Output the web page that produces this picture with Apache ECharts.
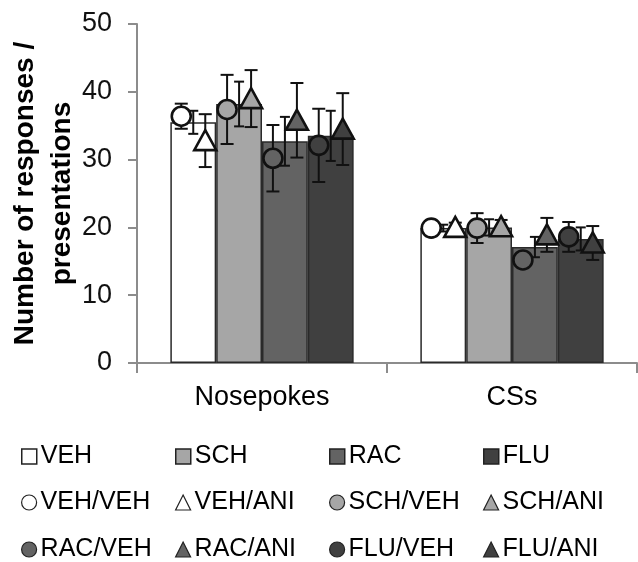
<!DOCTYPE html>
<html>
<head>
<meta charset="utf-8">
<script src="https://cdn.jsdelivr.net/npm/echarts@6/dist/echarts.min.js"></script>
<style>html,body{margin:0;padding:0;background:#fff;}#c{width:638px;height:562px;}</style>
</head>
<body>
<div id="c"></div>
<script>
// ---- data ----
const categories = ['Nosepokes', 'CSs'];
const yTicks = [0, 10, 20, 30, 40, 50];
const barNames = ['VEH', 'SCH', 'RAC', 'FLU'];
// bar means and SEM
const barVEH = [35.5, 19.9];
const barSCH = [38.2, 20.0];
const barRAC = [32.7, 17.1];
const barFLU = [33.5, 18.3];
const errVEH = [1.7, 0.5];
const errSCH = [3.3, 1.2];
const errRAC = [3.6, 1.5];
const errFLU = [3.7, 1.7];
// individual group means and SEM
const markerNames = ['VEH/VEH', 'VEH/ANI', 'SCH/VEH', 'SCH/ANI', 'RAC/VEH', 'RAC/ANI', 'FLU/VEH', 'FLU/ANI'];
const mVehVeh = [36.4, 19.9];
const mVehAni = [32.8, 20.0];
const mSchVeh = [37.4, 19.9];
const mSchAni = [39.0, 20.1];
const mRacVeh = [30.2, 15.2];
const mRacAni = [35.8, 18.9];
const mFluVeh = [32.1, 18.6];
const mFluAni = [34.5, 17.7];
const eVehVeh = [1.85, 0.6];
const eVehAni = [3.9, 0.7];
const eSchVeh = [5.1, 2.2];
const eSchAni = [4.2, 1.0];
const eRacVeh = [4.9, 1.0];
const eRacAni = [5.5, 2.5];
const eFluVeh = [5.4, 2.2];
const eFluAni = [5.3, 2.5];
// legend rows
const legendRow1 = ['VEH', 'SCH', 'RAC', 'FLU'];
const legendRow2 = ['VEH/VEH', 'VEH/ANI', 'SCH/VEH', 'SCH/ANI'];
const legendRow3 = ['RAC/VEH', 'RAC/ANI', 'FLU/VEH', 'FLU/ANI'];

// ---- styles ----
const FONT = 'Liberation Sans, Arial, sans-serif';
const barFill = ['#ffffff', '#a6a6a6', '#636363', '#404040'];
const BAR_FRAC = 0.1833;   // bar width as fraction of category band
const MARK_FRAC = 0.048;   // marker offset from bar centre as fraction of band

const barMeans = [barVEH, barSCH, barRAC, barFLU];
const barErrs = [errVEH, errSCH, errRAC, errFLU];
const mMeans = [mVehVeh, mVehAni, mSchVeh, mSchAni, mRacVeh, mRacAni, mFluVeh, mFluAni];
const mErrs = [eVehVeh, eVehAni, eSchVeh, eSchAni, eRacVeh, eRacAni, eFluVeh, eFluAni];

function toData(means, errs) {
  return categories.map((c, i) => [i, means[i], errs[i]]);
}

function errRender(barIdx, side, capHalf) {
  return function (params, api) {
    const c = api.value(0), v = api.value(1), e = api.value(2);
    const band = api.size([1, 0])[0];
    const p = api.coord([c, v]);
    const x = p[0] + band * (BAR_FRAC * (barIdx - 1.5) + side * MARK_FRAC);
    const yT = api.coord([c, v + e])[1];
    const yB = api.coord([c, v - e])[1];
    const st = { stroke: '#111', lineWidth: 2 };
    return {
      type: 'group',
      children: [
        { type: 'line', shape: { x1: x, y1: yT, x2: x, y2: yB }, style: st },
        { type: 'line', shape: { x1: x - capHalf, y1: yT, x2: x + capHalf, y2: yT }, style: st },
        { type: 'line', shape: { x1: x - capHalf, y1: yB, x2: x + capHalf, y2: yB }, style: st }
      ]
    };
  };
}

function markRender(barIdx, side, kind, fill) {
  return function (params, api) {
    const c = api.value(0), v = api.value(1);
    const band = api.size([1, 0])[0];
    const p = api.coord([c, v]);
    const x = p[0] + band * (BAR_FRAC * (barIdx - 1.5) + side * MARK_FRAC);
    const y = p[1];
    const st = { fill: fill, stroke: '#111', lineWidth: 2.6 };
    if (kind === 'circle') {
      return { type: 'circle', shape: { cx: x, cy: y, r: 9.5 }, style: st };
    }
    return {
      type: 'polygon',
      shape: { points: [[x, y - 10.5], [x + 11, y + 9.5], [x - 11, y + 9.5]] },
      style: st
    };
  };
}

const series = [];
barNames.forEach((n, j) => {
  series.push({
    name: n, type: 'bar', data: barMeans[j], barWidth: (BAR_FRAC * 100) + '%', barGap: '0%',
    itemStyle: { color: barFill[j], borderColor: '#2a2a2a', borderWidth: 1.5 }, z: 2,
    silent: true
  });
});
barNames.forEach((n, j) => {
  series.push({
    name: n + ' err', type: 'custom', renderItem: errRender(j, 0, 5), data: toData(barMeans[j], barErrs[j]),
    encode: { x: 0, y: 1 }, z: 3, silent: true
  });
});
markerNames.forEach((n, k) => {
  const j = Math.floor(k / 2), side = (k % 2 === 0) ? -1 : 1;
  series.push({
    name: n + ' err', type: 'custom', renderItem: errRender(j, side, 6.5), data: toData(mMeans[k], mErrs[k]),
    encode: { x: 0, y: 1 }, z: 4, silent: true
  });
});
markerNames.forEach((n, k) => {
  const j = Math.floor(k / 2), side = (k % 2 === 0) ? -1 : 1;
  const kind = (k % 2 === 0) ? 'circle' : 'triangle';
  series.push({
    name: n, type: 'custom', renderItem: markRender(j, side, kind, barFill[j]), data: toData(mMeans[k], mErrs[k]),
    encode: { x: 0, y: 1 }, z: 5, silent: true,
    itemStyle: { color: barFill[j], borderColor: '#111', borderWidth: 1 }
  });
});

function legItem(name) {
  const bi = barNames.indexOf(name);
  if (bi >= 0) {
    return { name: name, icon: 'rect', itemStyle: { color: barFill[bi], borderColor: '#222', borderWidth: 1.5 } };
  }
  const k = markerNames.indexOf(name);
  const j = Math.floor(k / 2);
  return {
    name: name, icon: (k % 2 === 0) ? 'circle' : 'triangle',
    itemStyle: { color: barFill[j], borderColor: '#222', borderWidth: 1.2 }
  };
}
const legendTops = [444, 490, 537];
const legendLefts = [21, 175, 329, 483];
const legends = [];
[legendRow1, legendRow2, legendRow3].forEach((row, r) => {
  row.forEach((name, c) => {
    legends.push({
      orient: 'horizontal', left: legendLefts[c], top: legendTops[r], padding: 0,
      itemWidth: 15, itemHeight: 15, selectedMode: false, data: [legItem(name)],
      textStyle: { fontFamily: FONT, fontSize: 25, color: '#000', padding: [0, 0, 0, -1] }
    });
  });
});

const chart = echarts.init(document.getElementById('c'), null, { renderer: 'canvas' });
chart.setOption({
  backgroundColor: '#fff',
  animation: false,
  textStyle: { fontFamily: FONT },
  grid: { left: 137, right: 1, top: 24, bottom: 199, containLabel: false, outerBoundsMode: 'none' },
  legend: legends,
  xAxis: {
    type: 'category', data: categories,
    axisLine: { lineStyle: { color: '#8c8c8c', width: 2 } },
    axisTick: { show: true, length: 10, lineStyle: { color: '#8c8c8c', width: 2 } },
    axisLabel: { fontFamily: FONT, fontSize: 27, color: '#000', margin: 21 }
  },
  yAxis: {
    type: 'value', min: yTicks[0], max: yTicks[yTicks.length - 1], interval: yTicks[1] - yTicks[0],
    name: 'Number of responses /\npresentations', nameLocation: 'middle', nameGap: 56, nameRotate: 90,
    nameMoveOverlap: false,
    nameTextStyle: { fontFamily: FONT, fontSize: 28, fontWeight: 'bold', color: '#000', lineHeight: 37 },
    axisLine: { show: true, lineStyle: { color: '#8c8c8c', width: 2 } },
    axisTick: { show: true, length: 9, lineStyle: { color: '#8c8c8c', width: 2 } },
    axisLabel: { fontFamily: FONT, fontSize: 27, color: '#111', margin: 25 },
    splitLine: { show: false }
  },
  series: series
});
</script>
</body>
</html>
